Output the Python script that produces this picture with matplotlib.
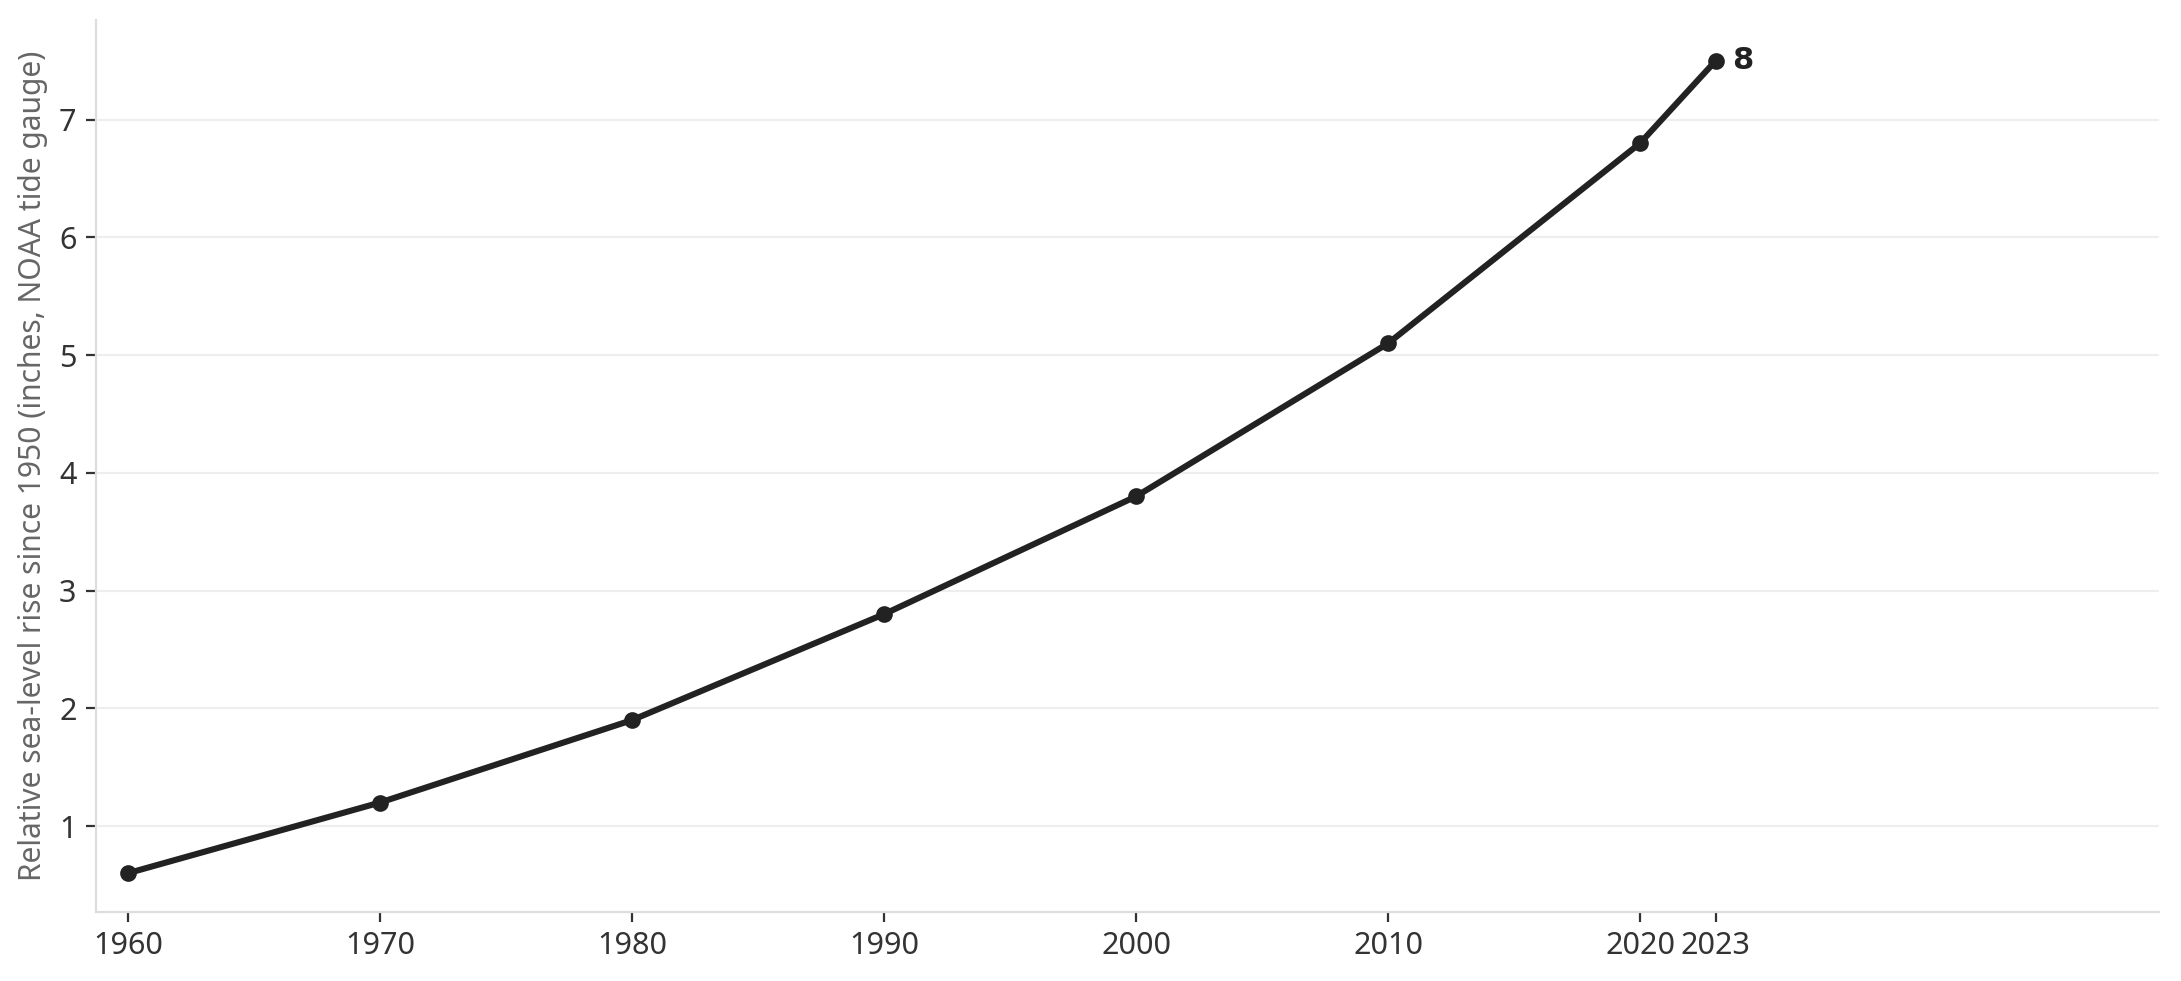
import matplotlib
matplotlib.use('Agg')
import matplotlib.pyplot as plt

plt.rcParams['font.family'] = ['Noto Sans', 'DejaVu Sans']

years = [1960, 1970, 1980, 1990, 2000, 2010, 2020, 2023]
rise_in = [0.6, 1.2, 1.9, 2.8, 3.8, 5.1, 6.8, 7.5]
last_label = '8'

fig = plt.figure(figsize=(10.905, 4.905), dpi=200)
ax = fig.add_axes([0.044, 0.0703, 0.946, 0.9097])

ax.plot(years, rise_in, color='#222222', linewidth=2.2, marker='o',
        markersize=5, zorder=3)
ax.annotate(last_label, (years[-1], rise_in[-1]), xytext=(6, 0),
            textcoords='offset points', va='center', ha='left',
            fontsize=11, fontweight='bold', color='#222222',
            family=['DejaVu Sans'])

ax.set_xlim(1958.73, 2040.6)
ax.set_ylim(0.27, 7.85)
ax.set_xticks(years)
ax.set_yticks([1, 2, 3, 4, 5, 6, 7])
ax.set_ylabel('Relative sea-level rise since 1950 (inches, NOAA tide gauge)',
              color='#666666', fontsize=10.8, labelpad=4)

ax.grid(axis='y', color='#eeeeee', linewidth=0.8)
ax.set_axisbelow(True)
for side in ['top', 'right']:
    ax.spines[side].set_visible(False)
for side in ['left', 'bottom']:
    ax.spines[side].set_color('#dddddd')
    ax.spines[side].set_linewidth(0.8)
ax.tick_params(axis='both', labelsize=11, labelcolor='#333333', color='#333333',
               length=3.5, width=0.8)

fig.savefig('out.png', dpi=200)
